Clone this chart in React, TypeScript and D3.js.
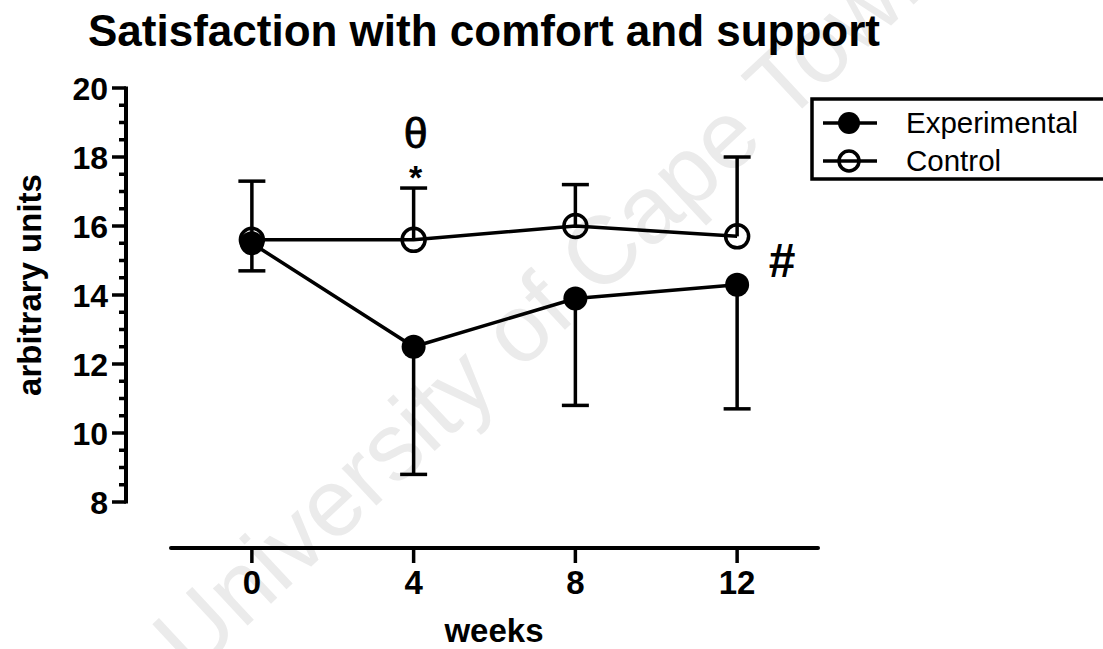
import React from "react";
import * as d3 from "d3";

// Study time points (weeks)
const weeks = [0, 4, 8, 12];
const xTicks = [0, 4, 8, 12];
const yMajorTicks = [8, 10, 12, 14, 16, 18, 20];

// Group means
const experimentalMean = [15.5, 12.5, 13.9, 14.3];
const controlMean = [15.6, 15.6, 16.0, 15.7];

// One-sided error bars: experimental drawn below, control drawn above
const experimentalErr = [0.8, 3.7, 3.1, 3.6];
const controlErr = [1.7, 1.5, 1.2, 2.3];

const seriesNames = ["Experimental", "Control"];

const FONT = "'Liberation Sans', Arial, Helvetica, sans-serif";
const STROKE = 3.5;

export default function App() {
  const width = 1103;
  const height = 649;

  const x = d3.scaleLinear().domain([-2, 14]).range([171, 818]);
  const y = d3.scaleLinear().domain([8, 20]).range([502, 88]);
  const axisX = 126;
  const axisY = 548;

  const minorTicks = d3.range(8, 20.001, 0.5).filter((v) => Math.abs(v % 2) > 1e-6);

  const line = d3
    .line<number>()
    .x((_, i) => x(weeks[i]))
    .y((d) => y(d));

  const capHalf = 13.5;
  const r = 12;

  return (
    <svg
      width={width}
      height={height}
      style={{ position: "absolute", left: 0, top: 0, background: "#fff" }}
      fontFamily={FONT}
    >
      <rect x={0} y={0} width={width} height={height} fill="#fff" />

      {/* institutional watermark */}
      <text
        x={570}
        y={325}
        transform="rotate(-43 570 325)"
        textAnchor="middle"
        fontSize={96}
        fill="#ebebeb"
      >
        University of Cape Town
      </text>

      {/* title */}
      <text x={88} y={46} fontSize={44} fontWeight="bold" fill="#000">
        Satisfaction with comfort and support
      </text>

      {/* y axis */}
      <line x1={axisX} x2={axisX} y1={y(20) - 1.5} y2={y(8) + 1.5} stroke="#000" strokeWidth={4} />
      {yMajorTicks.map((t) => (
        <g key={"ym" + t}>
          <line x1={axisX - 14} x2={axisX} y1={y(t)} y2={y(t)} stroke="#000" strokeWidth={3.5} />
          <text
            x={108}
            y={y(t)}
            dy="0.36em"
            textAnchor="end"
            fontSize={32}
            fontWeight="bold"
          >
            {t}
          </text>
        </g>
      ))}
      {minorTicks.map((t) => (
        <line key={"yn" + t} x1={axisX - 7} x2={axisX} y1={y(t)} y2={y(t)} stroke="#000" strokeWidth={3.5} />
      ))}
      <text
        transform={`translate(41, 285) rotate(-90)`}
        textAnchor="middle"
        fontSize={33}
        fontWeight="bold"
      >
        arbitrary units
      </text>

      {/* x axis */}
      <line x1={x(-2)} x2={x(14)} y1={axisY} y2={axisY} stroke="#000" strokeWidth={4} strokeLinecap="round" />
      {xTicks.map((t) => (
        <g key={"xt" + t}>
          <line x1={x(t)} x2={x(t)} y1={axisY} y2={axisY + 15} stroke="#000" strokeWidth={3.5} />
          <text x={x(t)} y={594} textAnchor="middle" fontSize={33} fontWeight="bold">
            {t}
          </text>
        </g>
      ))}
      <text x={494} y={642} textAnchor="middle" fontSize={33} fontWeight="bold">
        weeks
      </text>

      {/* connecting lines */}
      <path d={line(controlMean) || ""} fill="none" stroke="#000" strokeWidth={STROKE} />
      <path d={line(experimentalMean) || ""} fill="none" stroke="#000" strokeWidth={STROKE} />

      {/* error bars */}
      {weeks.map((w, i) => {
        const cx = x(w);
        const top = y(controlMean[i] + controlErr[i]);
        const bottom = y(experimentalMean[i] - experimentalErr[i]);
        return (
          <g key={"eb" + w} stroke="#000" strokeWidth={STROKE}>
            <line x1={cx} x2={cx} y1={top} y2={y(controlMean[i])} />
            <line x1={cx - capHalf} x2={cx + capHalf} y1={top} y2={top} />
            <line x1={cx} x2={cx} y1={y(experimentalMean[i])} y2={bottom} />
            <line x1={cx - capHalf} x2={cx + capHalf} y1={bottom} y2={bottom} />
          </g>
        );
      })}

      {/* control markers (open) */}
      {weeks.map((w, i) => (
        <circle
          key={"cm" + w}
          cx={x(w)}
          cy={y(controlMean[i])}
          r={r - 0.5}
          fill="none"
          stroke="#000"
          strokeWidth={3.5}
        />
      ))}
      {/* experimental markers (filled) */}
      {weeks.map((w, i) => (
        <circle key={"em" + w} cx={x(w)} cy={y(experimentalMean[i])} r={r} fill="#000" />
      ))}

      {/* significance markers */}
      <text x={x(4) + 2} y={148} textAnchor="middle" fontSize={43} fill="#000" stroke="#000" strokeWidth={0.8}>
        θ
      </text>
      <text x={x(4) + 2} y={189} textAnchor="middle" fontSize={34} fontWeight="bold" fill="#000">
        *
      </text>
      <text x={782} y={277} textAnchor="middle" fontSize={48} fontWeight="bold" fill="#000">
        #
      </text>

      {/* legend */}
      <rect x={812} y={99} width={320} height={80} fill="none" stroke="#000" strokeWidth={3.5} />
      {seriesNames.map((name, i) => {
        const ly = i === 0 ? 123 : 161;
        return (
          <g key={"lg" + name}>
            <line x1={823} x2={877} y1={ly} y2={ly} stroke="#000" strokeWidth={STROKE} />
            {i === 0 ? (
              <circle cx={849} cy={ly} r={11} fill="#000" />
            ) : (
              <circle cx={849} cy={ly} r={10} fill="none" stroke="#000" strokeWidth={3.5} />
            )}
            <text x={906} y={ly + 10} fontSize={29.5} fill="#000">
              {name}
            </text>
          </g>
        );
      })}
    </svg>
  );
}
